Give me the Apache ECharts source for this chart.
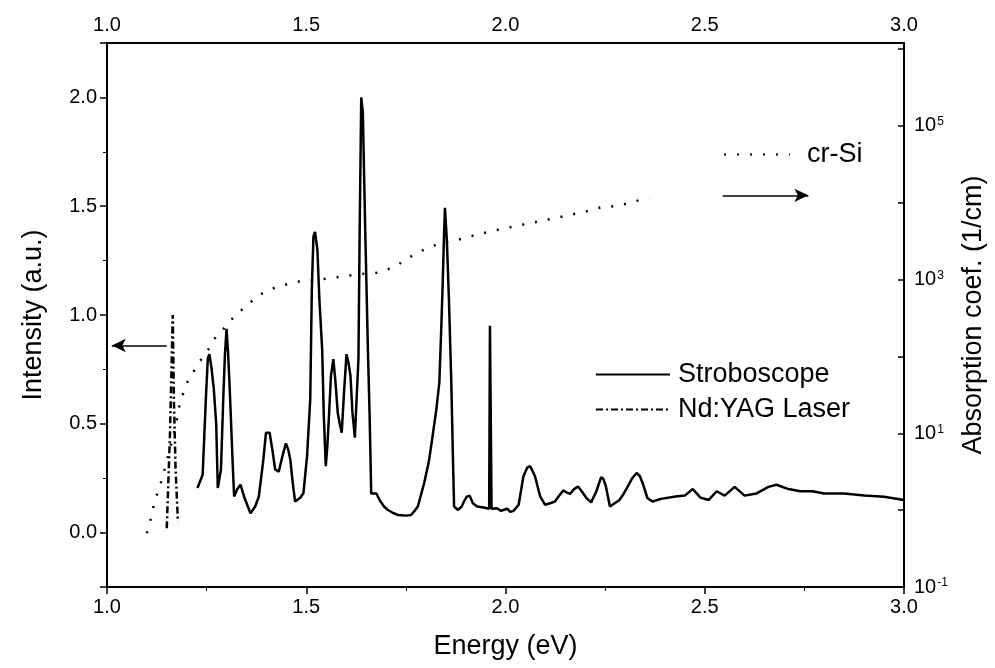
<!DOCTYPE html>
<html>
<head>
<meta charset="utf-8">
<title>Stroboscope spectrum</title>
<script src="https://cdn.jsdelivr.net/npm/echarts@6/dist/echarts.min.js"></script>
<style>
  html, body { margin: 0; padding: 0; background: #fff; }
  #chart { width: 995px; height: 668px; }
</style>
</head>
<body>
<div id="chart"></div>
<script>
// energy axis (eV) and intensity of the stroboscope lamp (a.u.)
var strobeEnergy = [
  1.227, 1.240, 1.248, 1.253, 1.257, 1.262, 1.268, 1.274, 1.278, 1.286, 1.292, 1.296, 1.300, 1.304, 1.308, 1.315, 1.319,
  1.327, 1.335, 1.345, 1.360, 1.372, 1.381, 1.392, 1.399, 1.408, 1.415, 1.422, 1.431, 1.440, 1.449, 1.455, 1.460, 1.466,
  1.472, 1.485, 1.493, 1.502, 1.510, 1.514, 1.518, 1.522, 1.528, 1.533, 1.540, 1.544, 1.549, 1.553, 1.557, 1.562, 1.568,
  1.573, 1.579, 1.584, 1.589, 1.595, 1.601, 1.606, 1.611, 1.616, 1.622, 1.627, 1.631, 1.634, 1.638, 1.642, 1.648, 1.655,
  1.659, 1.663, 1.676, 1.684, 1.695, 1.705, 1.718, 1.730, 1.750, 1.763, 1.772, 1.780, 1.796, 1.808, 1.817, 1.826, 1.834,
  1.839, 1.842, 1.846, 1.848, 1.851, 1.853, 1.858, 1.864, 1.868, 1.871, 1.881, 1.890, 1.896, 1.903, 1.910, 1.918, 1.929,
  1.945, 1.959, 1.961, 1.963, 1.965, 1.979, 1.988, 1.995, 2.004, 2.012, 2.020, 2.033, 2.045, 2.055, 2.062, 2.074, 2.087,
  2.099, 2.112, 2.124, 2.135, 2.145, 2.153, 2.162, 2.172, 2.182, 2.193, 2.203, 2.215, 2.228, 2.240, 2.246, 2.252, 2.262,
  2.274, 2.286, 2.297, 2.307, 2.318, 2.329, 2.337, 2.344, 2.356, 2.369, 2.390, 2.427, 2.450, 2.470, 2.490, 2.510, 2.530,
  2.550, 2.575, 2.600, 2.630, 2.660, 2.680, 2.710, 2.740, 2.770, 2.800, 2.850, 2.900, 2.950, 3.000
];
var strobeIntensity = [
  0.205, 0.266, 0.612, 0.800, 0.820, 0.760, 0.660, 0.500, 0.205, 0.290, 0.630, 0.820, 0.936, 0.820, 0.660, 0.335, 0.166,
  0.200, 0.220, 0.160, 0.089, 0.120, 0.166, 0.330, 0.459, 0.459, 0.380, 0.290, 0.280, 0.350, 0.410, 0.380, 0.335, 0.230,
  0.143, 0.160, 0.182, 0.350, 0.612, 1.120, 1.360, 1.382, 1.300, 1.070, 0.840, 0.540, 0.305, 0.400, 0.536, 0.720, 0.797,
  0.700, 0.551, 0.500, 0.459, 0.650, 0.820, 0.780, 0.720, 0.550, 0.436, 0.640, 0.800, 1.380, 2.000, 1.930, 1.390, 0.820,
  0.540, 0.180, 0.180, 0.150, 0.120, 0.104, 0.090, 0.081, 0.078, 0.081, 0.100, 0.120, 0.228, 0.330, 0.443, 0.560, 0.690,
  0.950, 1.120, 1.382, 1.493, 1.400, 1.336, 1.074, 0.690, 0.350, 0.120, 0.104, 0.120, 0.143, 0.165, 0.170, 0.135, 0.120,
  0.115, 0.110, 0.950, 0.950, 0.110, 0.112, 0.100, 0.104, 0.110, 0.095, 0.100, 0.128, 0.259, 0.300, 0.305, 0.259, 0.166,
  0.128, 0.135, 0.143, 0.170, 0.194, 0.185, 0.178, 0.200, 0.212, 0.185, 0.159, 0.139, 0.190, 0.255, 0.245, 0.212, 0.120,
  0.135, 0.150, 0.180, 0.212, 0.250, 0.274, 0.260, 0.228, 0.159, 0.143, 0.155, 0.166, 0.170, 0.200, 0.160, 0.150, 0.190,
  0.170, 0.210, 0.170, 0.180, 0.210, 0.220, 0.200, 0.190, 0.190, 0.180, 0.180, 0.170, 0.165, 0.150
];

// Nd:YAG laser line
var yagEnergy = [1.150, 1.158, 1.165, 1.168, 1.172, 1.178];
var yagIntensity = [0.02, 0.45, 1.00, 0.60, 0.30, 0.05];

// crystalline Si absorption coefficient (1/cm)
var siEnergy = [
  1.100, 1.111, 1.120, 1.132, 1.144, 1.157, 1.172, 1.182, 1.194, 1.207, 1.223, 1.232, 1.244, 1.265, 1.273, 1.290,
  1.319, 1.356, 1.389, 1.402, 1.441, 1.481, 1.560, 1.601, 1.643, 1.680, 1.722, 1.763, 1.796, 1.838, 1.883, 1.925,
  1.966, 2.050, 2.120, 2.199, 2.245, 2.282, 2.319, 2.344, 2.361
];
var siAbsorption = [
  0.50, 0.81, 1.35, 1.97, 3.33, 6.0, 12.2, 23.3, 36.9, 54.6, 69.7, 85, 104, 148, 182, 221,
  331, 489, 658, 726, 844, 944, 1040, 1122, 1189, 1232, 1469, 2003, 2465, 3006, 3327, 3808,
  4292, 5277, 6250, 7640, 8860, 9050, 10280, 11110, 11430
];

var absorptionLabelExp = [-1, 1, 3, 5];

function pairs(xs, ys) {
  return xs.map(function (x, i) { return [x, ys[i]]; });
}

var font = '"Liberation Sans", Arial, sans-serif';
var black = '#000';

var chart = echarts.init(document.getElementById('chart'));

// legend: line sample only, no marker
var legendItem = { opacity: 0, borderWidth: 0 };

var option = {
  animation: false,
  backgroundColor: '#fff',
  textStyle: { fontFamily: font, color: black },
  grid: { left: 107, right: 84, top: 43, bottom: 81 },
  legend: [
    {
      data: ['Stroboscope', 'Nd:YAG Laser'],
      orient: 'vertical',
      left: 590,
      top: 356,
      itemWidth: 74,
      itemHeight: 14,
      itemGap: 8,
      itemStyle: legendItem,
      textStyle: { fontFamily: font, fontSize: 27, color: black, padding: [0, 0, 0, 3] }
    },
    {
      data: ['cr-Si'],
      left: 718,
      top: 136,
      itemWidth: 66,
      itemHeight: 14,
      itemStyle: legendItem,
      textStyle: { fontFamily: font, fontSize: 27, color: black, padding: [0, 0, 0, 12] }
    }
  ],
  xAxis: [
    {
      type: 'value', position: 'bottom', min: 1, max: 3, interval: 0.5,
      name: 'Energy (eV)', nameLocation: 'middle', nameGap: 46,
      nameTextStyle: { fontFamily: font, fontSize: 27, color: black },
      axisLine: { onZero: false, lineStyle: { color: black, width: 2 } },
      axisTick: { inside: false, length: 7, lineStyle: { color: black, width: 1.5 } },
      minorTick: { show: true, splitNumber: 2, length: 4, lineStyle: { color: black } },
      axisLabel: { fontFamily: font, fontSize: 20, color: black, margin: 10, formatter: function (v) { return v.toFixed(1); } },
      splitLine: { show: false }
    },
    {
      type: 'value', position: 'top', min: 1, max: 3, interval: 0.5,
      axisLine: { onZero: false, lineStyle: { color: black, width: 2 } },
      axisTick: { show: false },
      axisLabel: { fontFamily: font, fontSize: 20, color: black, margin: 8, formatter: function (v) { return v.toFixed(1); } },
      splitLine: { show: false }
    }
  ],
  yAxis: [
    {
      type: 'value', position: 'left', min: -0.25, max: 2.25, splitNumber: 5,
      name: 'Intensity (a.u.)', nameLocation: 'middle', nameGap: 60,
      nameTextStyle: { fontFamily: font, fontSize: 27, color: black },
      axisLine: { show: true, onZero: false, lineStyle: { color: black, width: 2 } },
      axisTick: { show: true, length: 7, lineStyle: { color: black, width: 1.5 } },
      minorTick: { show: true, splitNumber: 2, length: 4, lineStyle: { color: black } },
      axisLabel: {
        fontFamily: font, fontSize: 20, color: black, margin: 10,
        showMinLabel: false, showMaxLabel: false,
        formatter: function (v) { return v.toFixed(1); }
      },
      splitLine: { show: false }
    },
    {
      type: 'log', logBase: 10, position: 'right', min: 0.1, max: 1.2e6, splitNumber: 5,
      name: 'Absorption coef. (1/cm)', nameLocation: 'middle', nameGap: 56,
      nameTextStyle: { fontFamily: font, fontSize: 27, color: black },
      axisLine: { show: true, onZero: false, lineStyle: { color: black, width: 2 } },
      axisTick: { show: true, inside: true, length: 6, lineStyle: { color: black, width: 1.5 } },
      axisLabel: {
        fontFamily: font, fontSize: 20, color: black, margin: 10,
        formatter: function (v) {
          var e = Math.log(v) / Math.LN10;
          var n = Math.round(e);
          if (Math.abs(e - n) > 1e-6 || absorptionLabelExp.indexOf(n) < 0) return '';
          return '{b|10}{s|' + n + '}';
        },
        rich: {
          b: { fontFamily: font, fontSize: 20, color: black },
          s: { fontFamily: font, fontSize: 12, color: black, verticalAlign: 'top', padding: [0, 0, 8, 1] }
        }
      },
      splitLine: { show: false }
    }
  ],
  series: [
    {
      name: 'Stroboscope', type: 'line', xAxisIndex: 0, yAxisIndex: 0,
      data: pairs(strobeEnergy, strobeIntensity),
      showSymbol: false, symbol: 'none',
      lineStyle: { color: black, width: 2.5 },
      itemStyle: { color: black },
      markLine: {
        silent: true, animation: false,
        lineStyle: { color: black, width: 1.5, type: 'solid' },
        label: { show: false },
        symbolSize: [10, 14],
        data: [
          [{ coord: [2.545, 1.55], symbol: 'none' }, { coord: [2.76, 1.55], symbol: 'arrow' }]
        ]
      }
    },
    {
      name: 'Nd:YAG Laser', type: 'line', xAxisIndex: 0, yAxisIndex: 0,
      data: pairs(yagEnergy, yagIntensity),
      showSymbol: false, symbol: 'none',
      lineStyle: { color: black, width: 2.5, type: [7, 3, 2, 3] },
      itemStyle: { color: black },
      markLine: {
        silent: true, animation: false,
        lineStyle: { color: black, width: 1.5, type: 'solid' },
        label: { show: false },
        symbolSize: [10, 14],
        data: [
          [{ coord: [1.15, 0.86], symbol: 'none' }, { coord: [1.012, 0.86], symbol: 'arrow' }]
        ]
      }
    },
    {
      name: 'cr-Si', type: 'line', xAxisIndex: 0, yAxisIndex: 1,
      data: pairs(siEnergy, siAbsorption),
      showSymbol: false, symbol: 'none',
      lineStyle: { color: black, width: 2.5, type: [2, 11] },
      itemStyle: { color: black }
    }
  ]
};

chart.setOption(option);
</script>
</body>
</html>
